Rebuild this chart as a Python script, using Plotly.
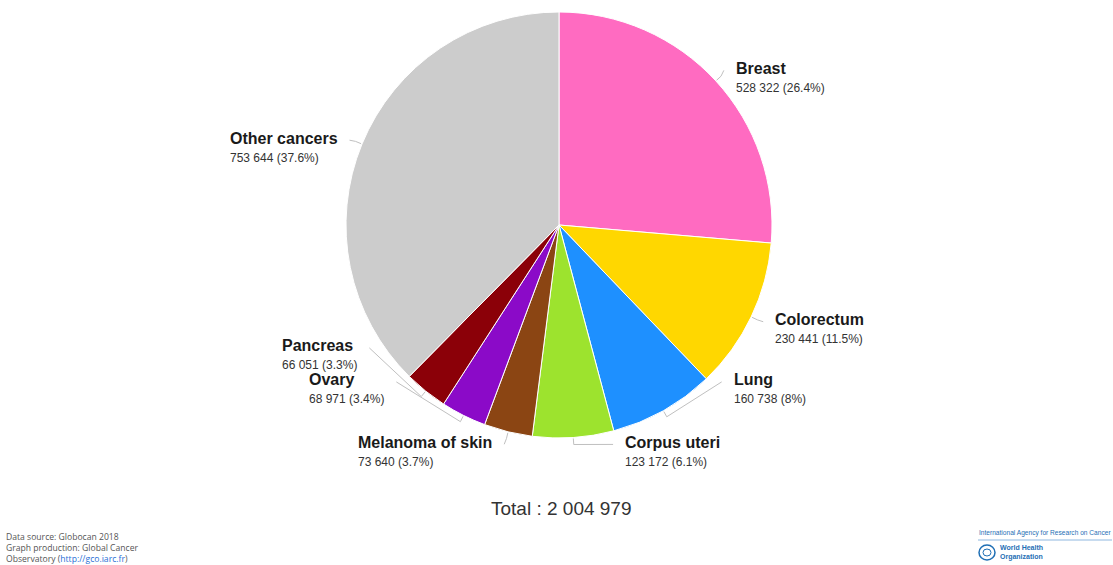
import math
import plotly.graph_objects as go

# ---- data ----
cancer_sites = ["Breast", "Colorectum", "Lung", "Corpus uteri",
                "Melanoma of skin", "Ovary", "Pancreas", "Other cancers"]
new_cases = [528322, 230441, 160738, 123172, 73640, 68971, 66051, 753644]
percent_labels = ["26.4%", "11.5%", "8%", "6.1%", "3.7%", "3.4%", "3.3%", "37.6%"]
total_label = "Total : 2 004 979"

# ---- style ----
slice_colors = ["#FF6BC1", "#FFD700", "#1E90FF", "#9DE32E",
                "#8B4513", "#8B0AC8", "#8B0008", "#CCCCCC"]
# label angle shifts (degrees) used to avoid overlapping labels
label_angle_shift = [-0.6, -0.2, -16.7, -10.0, 0.2, 19.4, 18.3, -0.3]

W, H = 1113, 565
CX, CY, R = 559, 225, 213

def fmt(n):
    return f"{n:,}".replace(",", " ")

fig = go.Figure(go.Pie(
    labels=cancer_sites, values=new_cases, sort=False, direction="clockwise",
    rotation=0, textinfo="none", hoverinfo="label+value+percent",
    marker=dict(colors=slice_colors, line=dict(color="white", width=1)),
    domain=dict(x=[(CX - R) / W, (CX + R) / W], y=[1 - (CY + R) / H, 1 - (CY - R) / H]),
    showlegend=False,
))

total = sum(new_cases)
cum = 0
shapes = []
annotations = []
FONT = "Liberation Sans, Arial, sans-serif"


def pt(r, ang):
    return CX + r * math.sin(ang), CY - r * math.cos(ang)


for name, v, pct, shift in zip(cancer_sites, new_cases, percent_labels, label_angle_shift):
    a0 = cum / total * 360
    cum += v
    a1 = cum / total * 360
    mid = math.radians((a0 + a1) / 2)
    lab = mid + math.radians(shift)

    p1 = pt(R + 1, mid)
    p2 = pt(R + 7, mid)
    p3 = pt(R + 13, lab)
    shapes.append(dict(type="path", xref="paper", yref="paper",
                       path="M {} {} L {} {} L {} {}".format(
                           p1[0] / W, 1 - p1[1] / H, p2[0] / W, 1 - p2[1] / H,
                           p3[0] / W, 1 - p3[1] / H),
                       line=dict(color="#C0C0C0", width=1)))
    right = math.sin(lab) > 0
    tx = p3[0] + (10 if right else -10)
    xa = "left" if right else "right"
    annotations.append(dict(
        x=tx / W, y=1 - (p3[1] + 7) / H, xref="paper", yref="paper",
        text=(f"<span style='font-size:16px;color:#1a1a1a'><b>{name}</b></span><br>"
              f"<span style='font-size:12px;color:#333333'>{fmt(v)} ({pct})</span>"),
        showarrow=False, xanchor=xa, yanchor="middle", align="left",
        font=dict(family=FONT, size=14, color="#333333")))

annotations.append(dict(
    x=561 / W, y=1 - 508 / H, xref="paper", yref="paper", text=total_label,
    showarrow=False, xanchor="center", yanchor="middle",
    font=dict(family=FONT, size=19, color="#333333")))

annotations.append(dict(
    x=4 / W, y=1 - 548 / H, xref="paper", yref="paper", align="left",
    text=("Data source: Globocan 2018<br>Graph production: Global Cancer<br>"
          "Observatory (<span style='color:#2a6fd6'>http://gco.iarc.fr</span>)"),
    showarrow=False, xanchor="left", yanchor="middle",
    font=dict(family="Open Sans, sans-serif", size=8.6, color="#555555")))

annotations.append(dict(
    x=977 / W, y=1 - 533 / H, xref="paper", yref="paper",
    text="International Agency for Research on Cancer", showarrow=False,
    xanchor="left", yanchor="middle",
    font=dict(family=FONT, size=6.6, color="#1f6fb5")))
shapes.append(dict(type="line", xref="paper", yref="paper",
                   x0=978 / W, x1=1112 / W, y0=1 - 540 / H, y1=1 - 540 / H,
                   line=dict(color="#8fb8e0", width=1)))
shapes.append(dict(type="circle", xref="paper", yref="paper",
                   x0=979 / W, x1=995 / W, y0=1 - 560 / H, y1=1 - 545 / H,
                   line=dict(color="#1f6fb5", width=1.5)))
shapes.append(dict(type="circle", xref="paper", yref="paper",
                   x0=983 / W, x1=991 / W, y0=1 - 556 / H, y1=1 - 549 / H,
                   line=dict(color="#1f6fb5", width=1)))
annotations.append(dict(
    x=998 / W, y=1 - 552.5 / H, xref="paper", yref="paper", align="left",
    text="<b>World Health<br>Organization</b>", showarrow=False,
    xanchor="left", yanchor="middle",
    font=dict(family=FONT, size=7, color="#1f6fb5")))

fig.update_layout(
    width=W, height=H, margin=dict(l=0, r=0, t=0, b=0),
    paper_bgcolor="white", plot_bgcolor="white",
    shapes=shapes, annotations=annotations,
)

fig.write_html("out.html", config={"displayModeBar": False},
               post_script="document.body.style.margin='0';document.body.style.overflow='hidden';")
